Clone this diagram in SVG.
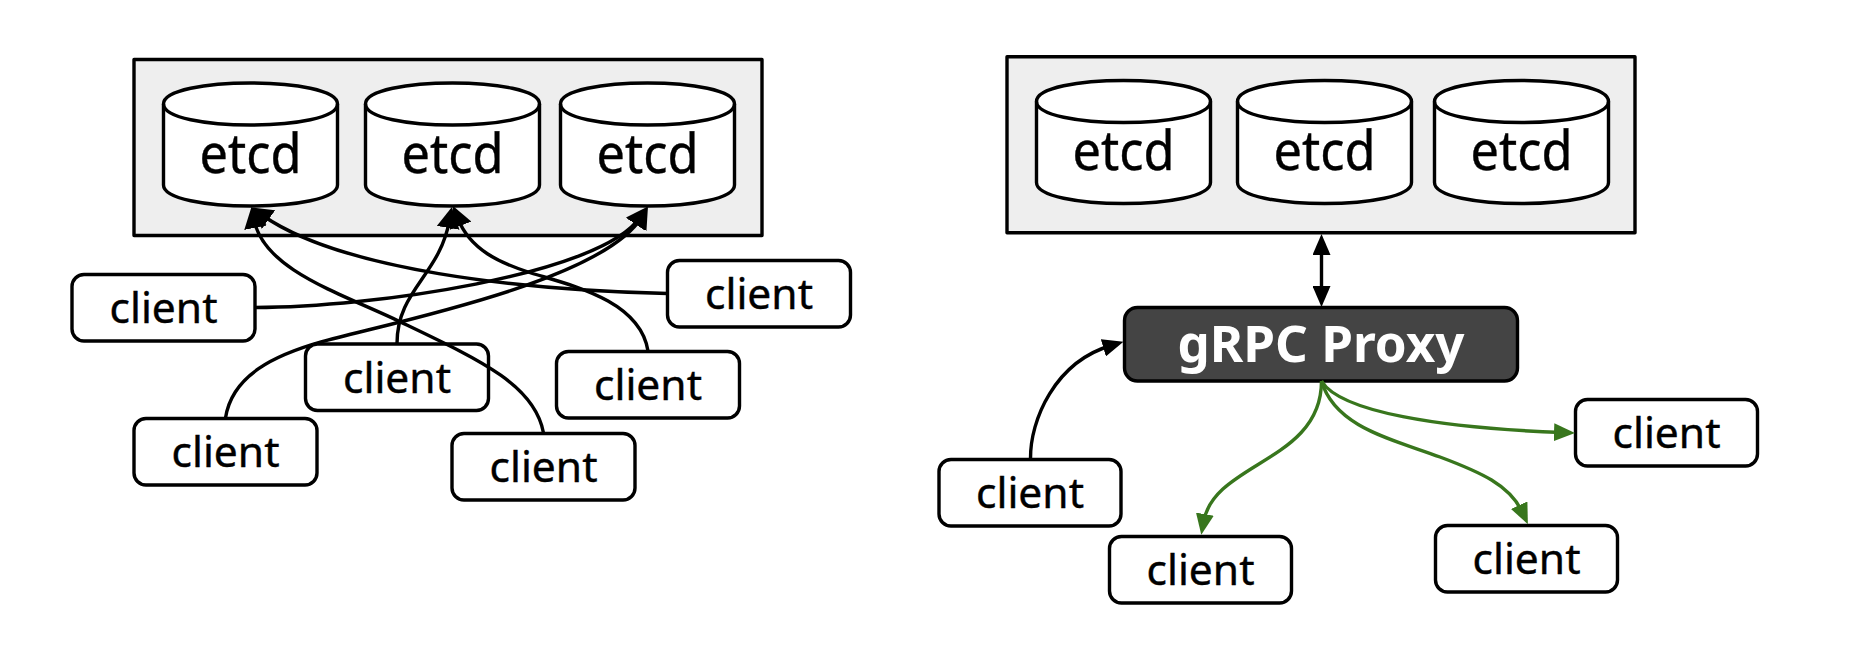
<svg xmlns="http://www.w3.org/2000/svg" xmlns:xlink="http://www.w3.org/1999/xlink" width="1858" height="672" viewBox="0 0 1858 672">
<style>
text{font-family:"Noto Sans","Open Sans","DejaVu Sans",sans-serif;text-anchor:middle}
.panel{fill:#eeeeee;stroke:#000;stroke-width:3.4;stroke-linejoin:round}
.cyl{fill:#fff;stroke:#000;stroke-width:3.4;stroke-linejoin:round}
.lid{fill:none;stroke:#000;stroke-width:3.4}
.etcd{font-size:54px;fill:#000;stroke:#000;stroke-width:.4}
.box{fill:#fff;stroke:#000;stroke-width:3.4}
.cl{font-size:42px;fill:#000;stroke:#000;stroke-width:.4}
.proxy{fill:#444444;stroke:#000;stroke-width:3.4}
.ptext{font-size:50px;font-weight:700;fill:#fff}
.k{fill:none;stroke:#000;stroke-width:3.4}
.g{fill:none;stroke:#38761d;stroke-width:3.4}
</style>
<defs>
<g id="cylshape"><path class="cyl" d="M0 21C0 -7 174 -7 174 21L174 102C174 130 0 130 0 102Z"/><path class="lid" d="M0 21C0 49 174 49 174 21"/></g>
<marker id="al" markerUnits="userSpaceOnUse" markerWidth="21" markerHeight="23" viewBox="0 0 21 23" refX="8" refY="11.5" orient="auto"><path d="M0 0L21 11.5L0 23Z" fill="#000"/></marker>
<marker id="ah" markerUnits="userSpaceOnUse" markerWidth="21" markerHeight="18" viewBox="0 0 21 18" refX="8" refY="9" orient="auto"><path d="M0 0L21 9L0 18Z" fill="#000"/></marker>
<marker id="as" markerUnits="userSpaceOnUse" markerWidth="21" markerHeight="18" viewBox="0 0 21 18" refX="13" refY="9" orient="auto"><path d="M21 0L0 9L21 18Z" fill="#000"/></marker>
<marker id="ag" markerUnits="userSpaceOnUse" markerWidth="21" markerHeight="18" viewBox="0 0 21 18" refX="8" refY="9" orient="auto"><path d="M0 0L21 9L0 18Z" fill="#38761d"/></marker>
</defs>
<g id="left-cluster">
<rect class="panel" x="134" y="59.5" width="628" height="176"/>
<g id="etcd-l1"><use href="#cylshape" x="163.5" y="83"/><text class="etcd" x="250.5" y="172.7" textLength="102" lengthAdjust="spacingAndGlyphs">etcd</text></g>
<g id="etcd-l2"><use href="#cylshape" x="365.5" y="83"/><text class="etcd" x="452.5" y="172.7" textLength="102" lengthAdjust="spacingAndGlyphs">etcd</text></g>
<g id="etcd-l3"><use href="#cylshape" x="560.5" y="83"/><text class="etcd" x="647.5" y="172.7" textLength="102" lengthAdjust="spacingAndGlyphs">etcd</text></g>
</g>
<g id="right-cluster">
<rect class="panel" x="1007" y="56.7" width="628" height="176"/>
<g id="etcd-r1"><use href="#cylshape" x="1036.5" y="80.5"/><text class="etcd" x="1123.5" y="169.7" textLength="102" lengthAdjust="spacingAndGlyphs">etcd</text></g>
<g id="etcd-r2"><use href="#cylshape" x="1237.5" y="80.5"/><text class="etcd" x="1324.5" y="169.7" textLength="102" lengthAdjust="spacingAndGlyphs">etcd</text></g>
<g id="etcd-r3"><use href="#cylshape" x="1434.5" y="80.5"/><text class="etcd" x="1521.5" y="169.7" textLength="102" lengthAdjust="spacingAndGlyphs">etcd</text></g>
</g>
<g id="client-l1"><rect class="box" x="72" y="274.5" width="183" height="66.5" rx="12"/><text class="cl" x="163.5" y="323" textLength="108" lengthAdjust="spacingAndGlyphs">client</text></g>
<g id="client-l2"><rect class="box" x="667.5" y="260.5" width="183" height="66.5" rx="12"/><text class="cl" x="759" y="309" textLength="108" lengthAdjust="spacingAndGlyphs">client</text></g>
<g id="client-l3"><rect class="box" x="305.5" y="344" width="183" height="66.5" rx="12"/><text class="cl" x="397" y="392.5" textLength="108" lengthAdjust="spacingAndGlyphs">client</text></g>
<g id="client-l4"><rect class="box" x="556.5" y="351.5" width="183" height="66.5" rx="12"/><text class="cl" x="648" y="400" textLength="108" lengthAdjust="spacingAndGlyphs">client</text></g>
<g id="client-l5"><rect class="box" x="134" y="418.5" width="183" height="66.5" rx="12"/><text class="cl" x="225.5" y="467" textLength="108" lengthAdjust="spacingAndGlyphs">client</text></g>
<g id="client-l6"><rect class="box" x="452" y="433.5" width="183" height="66.5" rx="12"/><text class="cl" x="543.5" y="482" textLength="108" lengthAdjust="spacingAndGlyphs">client</text></g>
<g id="grpc-proxy"><rect class="proxy" x="1124.5" y="307.5" width="393" height="73.5" rx="13"/><text class="ptext" x="1321" y="361.5" textLength="287" lengthAdjust="spacingAndGlyphs">gRPC Proxy</text></g>
<g id="client-r1"><rect class="box" x="939" y="459.5" width="182" height="66.5" rx="12"/><text class="cl" x="1030" y="508" textLength="108" lengthAdjust="spacingAndGlyphs">client</text></g>
<g id="client-r2"><rect class="box" x="1109.5" y="536.5" width="182" height="66.5" rx="12"/><text class="cl" x="1200.5" y="585" textLength="108" lengthAdjust="spacingAndGlyphs">client</text></g>
<g id="client-r3"><rect class="box" x="1435.5" y="525.5" width="182" height="66.5" rx="12"/><text class="cl" x="1526.5" y="574" textLength="108" lengthAdjust="spacingAndGlyphs">client</text></g>
<g id="client-r4"><rect class="box" x="1575.5" y="399.5" width="182" height="66.5" rx="12"/><text class="cl" x="1666.5" y="448" textLength="108" lengthAdjust="spacingAndGlyphs">client</text></g>
<g id="connectors">
<path class="k" marker-end="url(#al)" d="M255 307.5C370 307.5 600 275 640 217.5"/>
<path class="k" marker-end="url(#al)" d="M225.5 418C232 375 275 355 322 341.7C380 325 600 283 641 218"/>
<path class="k" marker-end="url(#al)" d="M397 343.5C397 290 440 275 449.5 220"/>
<path class="k" marker-end="url(#al)" d="M648 351C640 300 570 285 531 273C500 263 470 250 457.7 218.2"/>
<path class="k" marker-end="url(#al)" d="M667.5 293.5C520 290 340 270 262 215"/>
<path class="k" marker-end="url(#al)" d="M543.5 433C535 385 480 360 400 321.7C340 293 264 270 254 219.8"/>
<path class="k" marker-start="url(#as)" marker-end="url(#ah)" d="M1321.5 247V294"/>
<path class="k" marker-end="url(#ah)" d="M1030.5 459C1030 420 1055 362 1111 345.5"/>
<path class="g" marker-end="url(#ag)" d="M1321.5 381C1340 412 1440 428 1562 432.5"/>
<path class="g" marker-end="url(#ag)" d="M1321.5 381C1321.5 462 1214 462 1203.5 522"/>
<path class="g" marker-end="url(#ag)" d="M1321.5 381C1335 428 1395 440 1440 457C1480 472 1510 485 1522.5 512.5"/>
</g>
</svg>
